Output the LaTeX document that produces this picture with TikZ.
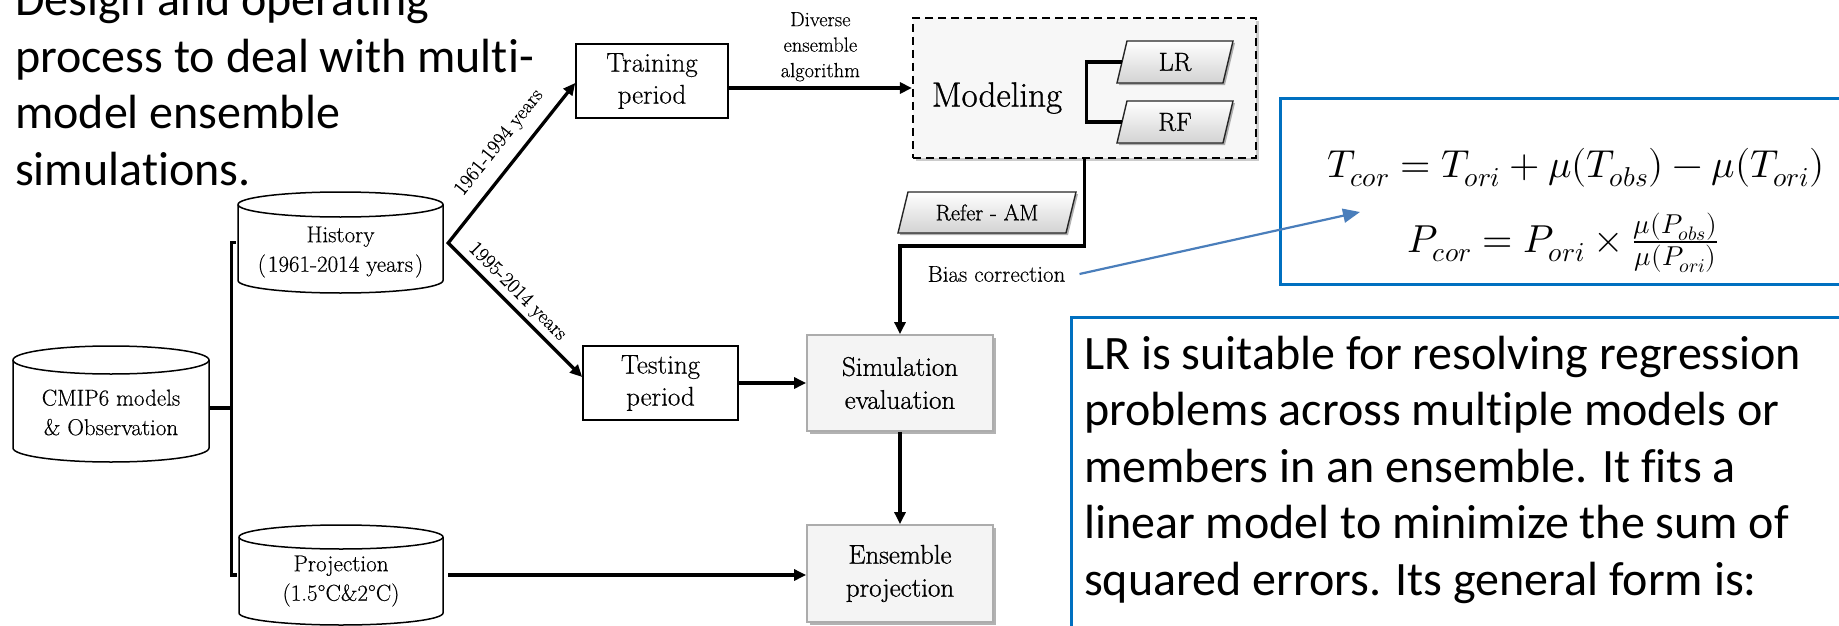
\documentclass[tikz,border=0pt]{standalone}
\usepackage{fontspec}
\usepackage{unicode-math}
\setmainfont{Latin Modern Roman}
\setmathfont{Latin Modern Math}
\newfontfamily\calibri{Carlito}[Ligatures=NoCommon]
\newfontfamily\lmmed{Latin Modern Roman}[FakeBold=0.35]
\newfontfamily\lmheavy{Latin Modern Roman}[FakeBold=0.9]
\usetikzlibrary{arrows.meta,shadows,calc}
\definecolor{boxblue}{RGB}{0,112,192}
\definecolor{arrblue}{RGB}{74,126,187}

% cylinder outline: cx cy w h ry
\newcommand\drawcyl[5]{%
  \path[cylbody] ({#1-#3/2},{-#2+#4/2-#5}) -- ({#1-#3/2},{-#2-#4/2+#5})
    arc[start angle=180,end angle=360,x radius=#3/2,y radius=#5]
    -- ({#1+#3/2},{-#2+#4/2-#5})
    arc[start angle=0,end angle=180,x radius=#3/2,y radius=#5] -- cycle;
  \draw[cylline] ({#1-#3/2},{-#2+#4/2-#5})
    arc[start angle=180,end angle=360,x radius=#3/2,y radius=#5];}
% parallelogram outline: cx cy w h
\newcommand\drawpara[4]{%
  \path[parafill] ({#1-#3/2-5},{-#2-#4/2}) -- ({#1-#3/2+5},{-#2+#4/2})
    -- ({#1+#3/2+5},{-#2+#4/2}) -- ({#1+#3/2-5},{-#2-#4/2}) -- cycle;}

\begin{document}
\begin{tikzpicture}[x=1pt,y=1pt,
  conn/.style={line width=3.3pt, line join=miter},
  tipA/.tip={Triangle[length=12pt,width=11pt]},
  arr/.style={conn, -tipA},
  cylbody/.style={draw=black, line width=1.5pt, fill=white},
  cylline/.style={draw=black, line width=1.5pt},
  cylshape/.style={draw=none, inner sep=0pt},
  cyltext/.style={font=\lmmed\fontsize{23}{29.5}\selectfont, align=center, inner sep=0pt},
  plainbox/.style={draw=black, line width=1.6pt, fill=white, align=center, inner sep=0pt,
    font=\lmmed\fontsize{27}{32}\selectfont},
  graybox/.style={draw=gray!65, line width=1.8pt, fill=gray!9, minimum width=186pt,
    minimum height=96pt, align=center, inner sep=0pt, font=\lmheavy\fontsize{27}{33}\selectfont,
    drop shadow={shadow xshift=3pt, shadow yshift=-3pt, opacity=0.3, fill=black}},
  modelbox/.style={draw=black, line width=2.2pt, dash pattern=on 8pt off 5pt, fill=gray!6,
    minimum width=343pt, minimum height=140pt,
    drop shadow={shadow xshift=3pt, shadow yshift=-3pt, opacity=0.2, fill=black}},
  parafill/.style={draw=black!85, line width=1.4pt, top color=white, bottom color=gray!35,
    drop shadow={shadow xshift=2pt, shadow yshift=-2pt, opacity=0.3, fill=black}},
  paratext/.style={font=\lmheavy\fontsize{26}{30}\selectfont, inner sep=0pt},
  lab/.style={font=\lmmed\fontsize{20.5}{25.5}\selectfont, inner sep=2pt, align=center},
  bigtext/.style={font=\calibri\fontsize{48}{56.5}\selectfont, align=left, inner sep=0pt},
  bluebox/.style={draw=boxblue, line width=2.8pt, fill=white},
  bluearr/.style={draw=arrblue, line width=2.2pt, -{Triangle[length=17pt,width=14pt]}}
]
\useasboundingbox (0,0) rectangle (1839,-626);
\clip (0,0) rectangle (1839,-626);

% ---------- title ----------
\node[bigtext, anchor=base west] (title) at (15,-185)
  {Design and operating\\process to deal with multi-\\model ensemble\\simulations.};

% ---------- cylinders ----------
\drawcyl{340.5}{242.5}{205}{101}{12.5}
\node[cylshape, minimum width=205pt, minimum height=101pt] (hist) at (340.5,-242.5) {};
\node[cyltext] (histtxt) at (340.5,-252) {History\\(\kern2pt1961-2014 years\kern2pt)};

\drawcyl{111}{404}{196}{116}{14}
\node[cylshape, minimum width=196pt, minimum height=116pt] (cmip) at (111,-404) {};
\node[cyltext] (cmiptxt) at (111,-412.5) {CMIP6 models\\\& Observation};

\drawcyl{341}{575}{204}{100}{12}
\node[cylshape, minimum width=204pt, minimum height=100pt] (proj) at (341,-575) {};
\node[cyltext] (projtxt) at (341,-581) {Projection\\(1.5°C\&2°C)};

% ---------- boxes ----------
\node[plainbox, minimum width=152pt, minimum height=74pt] (train) at (652,-81) {Training\\period};
\node[plainbox, minimum width=155pt, minimum height=74pt] (test) at (660.5,-383) {Testing\\period};
\node[graybox] (sim) at (900,-383) {Simulation\\evaluation};
\node[graybox, minimum height=97pt] (ens) at (900,-573.5) {Ensemble\\projection};

% ---------- modeling group ----------
\node[modelbox] (model) at (1084.5,-88) {};
\node[font=\lmheavy\fontsize{35}{40}\selectfont, inner sep=0pt] (modtxt) at (997,-98) {Modeling};
\drawpara{1175}{62}{106}{42}
\node[paratext, minimum width=106pt, minimum height=42pt] (lr) at (1175,-62) {LR};
\drawpara{1175}{122}{106}{42}
\node[paratext, minimum width=106pt, minimum height=42pt] (rf) at (1175,-122) {RF};
\draw[conn] (lr.west) -| ($(lr.west)!0.5!(rf.west)+(-35,0)$) |- (rf.west);

\drawpara{987}{212.5}{168}{41}
\node[font=\lmheavy\fontsize{22.5}{26}\selectfont, inner sep=0pt, minimum width=168pt, minimum height=41pt] (refer) at (987,-212.5) {Refer - AM};

% ---------- connectors ----------
\coordinate (split) at ($(hist.east)+(5,-0.5)$);
\draw[conn, tipA-tipA] ([yshift=-2]train.west) -- (split) -- ([yshift=6]test.west);
\path (split) -- node[lab, sloped, above=11pt, pos=0.54] (l1) {1961-1994 years} ([yshift=-2]train.west);
\path (split) -- node[lab, sloped, above=3pt, pos=0.44] (l2) {1995-2014 years} ([yshift=6]test.west);

\draw[arr] (model.west -| train.east) -- node[lab, above=3pt] (div) {Diverse\\ensemble\\algorithm} (model.west);

\coordinate (brk) at ($(hist.west)+(-6,0)$);
\draw[conn] ([yshift=-4]cmip.east) -- ([yshift=-4]cmip.east -| brk);
\draw[conn] ([xshift=-2]hist.west) -- (brk) |- ([xshift=-2]proj.west);

\draw[arr] (test.east) -- (sim.west);
\draw[arr] (sim.south) -- (ens.north);
\draw[arr, shorten <=5pt] (proj.east) -- (proj.east -| ens.west);
\draw[arr] (model.south) |- ($(sim.north)+(0,88)$) -- (sim.north);
\node[font=\lmmed\fontsize{23}{26}\selectfont, inner sep=2pt] (bias) at (996.5,-274) {Bias correction};

% ---------- right side ----------
\node[bluebox, anchor=north west, minimum width=640pt, minimum height=186pt] (fbox) at (1279,-97) {};
\node[font=\fontsize{39}{44}\selectfont, anchor=base, inner sep=0pt] (tcor) at (1576,-177)
  {$T_{cor} = T_{ori} + \mu(T_{obs}) - \mu(T_{ori})$};
\node[font=\fontsize{39}{44}\selectfont, anchor=base, inner sep=0pt] (pcor) at (1563,-252)
  {$P_{cor} = P_{ori} \times \frac{\mu(P_{obs})}{\mu(P_{ori})}$};
\coordinate (ftip) at (1360,-212);
\draw[bluearr] ([xshift=12]bias.east) -- (ftip);

\node[bluebox, anchor=north west, minimum width=820pt, minimum height=400pt] (tbox) at (1070,-316) {};
\node[bigtext, anchor=base west] (desc) at (1084,-595)
  {LR is suitable for resolving regression\\problems across multiple models or\\members in an ensemble. It fits a\\linear model to minimize the sum of\\squared errors. Its general form is:};
\end{tikzpicture}
\end{document}
